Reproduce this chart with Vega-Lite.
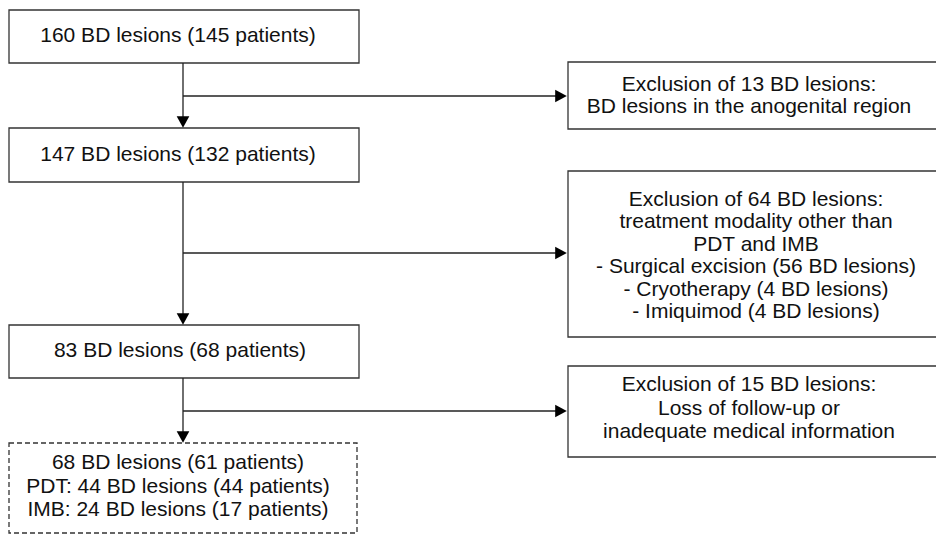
{
  "$schema": "https://vega.github.io/schema/vega-lite/v6.json",
  "width": 936,
  "height": 534,
  "autosize": {"type": "fit", "contains": "padding"},
  "padding": 0,
  "background": "white",
  "config": {"view": {"stroke": null}},
  "datasets": {
    "boxes": [
      {"id": "A", "x1": 9, "x2": 359, "y1": 10, "y2": 63},
      {"id": "B", "x1": 9, "x2": 359, "y1": 128, "y2": 182},
      {"id": "C", "x1": 9, "x2": 359, "y1": 325, "y2": 378},
      {"id": "R1", "x1": 568, "x2": 950, "y1": 62, "y2": 129},
      {"id": "R2", "x1": 568, "x2": 950, "y1": 171, "y2": 337},
      {"id": "R3", "x1": 568, "x2": 950, "y1": 366, "y2": 457}
    ],
    "dashedBoxes": [
      {"id": "D", "x1": 9, "x2": 357, "y1": 443, "y2": 533}
    ],
    "lines": [
      {"x1": 183, "x2": 183, "y1": 63, "y2": 118},
      {"x1": 183, "x2": 183, "y1": 182, "y2": 315},
      {"x1": 183, "x2": 183, "y1": 378, "y2": 433},
      {"x1": 183, "x2": 557, "y1": 96, "y2": 96},
      {"x1": 183, "x2": 557, "y1": 253, "y2": 253},
      {"x1": 183, "x2": 557, "y1": 411, "y2": 411}
    ],
    "downHeads": [
      {"x": 183, "y": 122},
      {"x": 183, "y": 319},
      {"x": 183, "y": 437}
    ],
    "rightHeads": [
      {"x": 561, "y": 96},
      {"x": 561, "y": 253},
      {"x": 561, "y": 411}
    ],
    "labels": [
      {"x": 178, "y": 36, "text": "160 BD lesions (145 patients)"},
      {"x": 178, "y": 155, "text": "147 BD lesions (132 patients)"},
      {"x": 180, "y": 351, "text": "83 BD lesions (68 patients)"},
      {"x": 749, "y": 85, "text": "Exclusion of 13 BD lesions:\nBD lesions in the anogenital region"}
    ],
    "labelsMid": [
      {"x": 756, "y": 200, "text": "Exclusion of 64 BD lesions:\ntreatment modality other than\nPDT and IMB\n- Surgical excision (56 BD lesions)\n- Cryotherapy (4 BD lesions)\n- Imiquimod (4 BD lesions)"}
    ],
    "labelsTall": [
      {"x": 178, "y": 463, "text": "68 BD lesions (61 patients)\nPDT: 44 BD lesions (44 patients)\nIMB: 24 BD lesions (17 patients)"},
      {"x": 749, "y": 385, "text": "Exclusion of 15 BD lesions:\nLoss of follow-up or\ninadequate medical information"}
    ]
  },
  "layer": [
    {
      "data": {"name": "boxes"},
      "mark": {"type": "rect", "fill": "white", "stroke": "#333333", "strokeWidth": 1.3, "clip": true},
      "encoding": {
        "x": {"field": "x1", "type": "quantitative", "scale": {"domain": [0, 936], "nice": false, "zero": false}, "axis": null},
        "x2": {"field": "x2"},
        "y": {"field": "y1", "type": "quantitative", "scale": {"domain": [0, 534], "nice": false, "zero": false, "reverse": true}, "axis": null},
        "y2": {"field": "y2"}
      }
    },
    {
      "data": {"name": "dashedBoxes"},
      "mark": {"type": "rect", "fill": "white", "stroke": "#333333", "strokeWidth": 1.3, "strokeDash": [5, 3], "clip": true},
      "encoding": {
        "x": {"field": "x1", "type": "quantitative"},
        "x2": {"field": "x2"},
        "y": {"field": "y1", "type": "quantitative"},
        "y2": {"field": "y2"}
      }
    },
    {
      "data": {"name": "lines"},
      "mark": {"type": "rule", "color": "#222222", "strokeWidth": 1.3},
      "encoding": {
        "x": {"field": "x1", "type": "quantitative"},
        "x2": {"field": "x2"},
        "y": {"field": "y1", "type": "quantitative"},
        "y2": {"field": "y2"}
      }
    },
    {
      "data": {"name": "downHeads"},
      "mark": {"type": "point", "shape": "M-1,-0.92L1,-0.92L0,0.92Z", "size": 160, "filled": true, "color": "#000000", "opacity": 1},
      "encoding": {
        "x": {"field": "x", "type": "quantitative"},
        "y": {"field": "y", "type": "quantitative"}
      }
    },
    {
      "data": {"name": "rightHeads"},
      "mark": {"type": "point", "shape": "M-0.92,-1L0.92,0L-0.92,1Z", "size": 160, "filled": true, "color": "#000000", "opacity": 1},
      "encoding": {
        "x": {"field": "x", "type": "quantitative"},
        "y": {"field": "y", "type": "quantitative"}
      }
    },
    {
      "data": {"name": "labels"},
      "mark": {"type": "text", "font": "Liberation Sans", "fontSize": 21, "color": "#111111", "align": "center", "baseline": "middle", "lineBreak": "\n", "lineHeight": 22},
      "encoding": {
        "x": {"field": "x", "type": "quantitative"},
        "y": {"field": "y", "type": "quantitative"},
        "text": {"field": "text"}
      }
    },
    {
      "data": {"name": "labelsMid"},
      "mark": {"type": "text", "font": "Liberation Sans", "fontSize": 21, "color": "#111111", "align": "center", "baseline": "middle", "lineBreak": "\n", "lineHeight": 22.4},
      "encoding": {
        "x": {"field": "x", "type": "quantitative"},
        "y": {"field": "y", "type": "quantitative"},
        "text": {"field": "text"}
      }
    },
    {
      "data": {"name": "labelsTall"},
      "mark": {"type": "text", "font": "Liberation Sans", "fontSize": 21, "color": "#111111", "align": "center", "baseline": "middle", "lineBreak": "\n", "lineHeight": 23.5},
      "encoding": {
        "x": {"field": "x", "type": "quantitative"},
        "y": {"field": "y", "type": "quantitative"},
        "text": {"field": "text"}
      }
    }
  ]
}
